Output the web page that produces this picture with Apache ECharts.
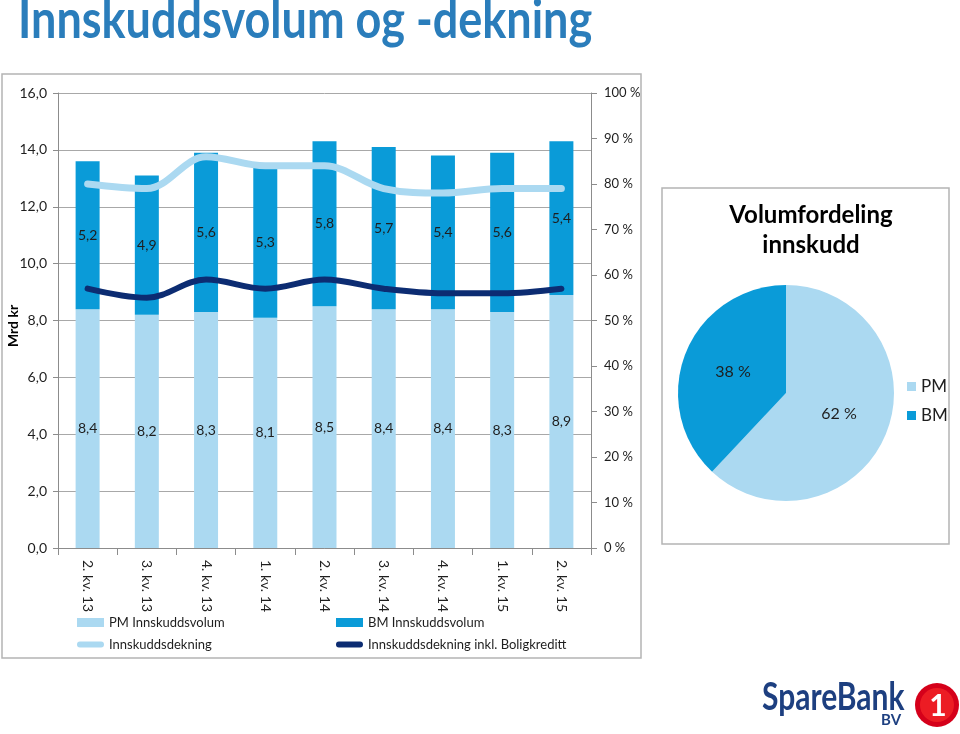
<!DOCTYPE html>
<html>
<head>
<meta charset="utf-8">
<script src="https://cdn.jsdelivr.net/npm/echarts@6/dist/echarts.min.js"></script>
<style>
html,body{margin:0;padding:0;background:#fff;}
#c{width:960px;height:734px;}
</style>
</head>
<body>
<div id="c"></div>
<script>
// ---- data ----
var categories = ['2. kv. 13','3. kv. 13','4. kv. 13','1. kv. 14','2. kv. 14','3. kv. 14','4. kv. 14','1. kv. 15','2. kv. 15'];
var pmVolum = [8.4, 8.2, 8.3, 8.1, 8.5, 8.4, 8.4, 8.3, 8.9];
var bmVolum = [5.2, 4.9, 5.6, 5.3, 5.8, 5.7, 5.4, 5.6, 5.4];
var dekning = [80, 79, 86, 84, 84, 79, 78, 79, 79];
var dekningBK = [57, 55, 59, 57, 59, 57, 56, 56, 57];
var pieNames = ['PM', 'BM'];
var pieValues = [62, 38];

var FONT = 'Lato, "Open Sans", sans-serif';
var C_PM = '#abd9f1';
var C_BM = '#0a9bd8';
var C_NAVY = '#0c2c72';
var TXT = '#1e1e1e';
function dec(v){ return v.toFixed(1).replace('.', ','); }
var lineIcon = 'path://M3,0 H25 A3,3 0 0 1 25,6 H3 A3,3 0 0 1 3,0 Z';

var chart = echarts.init(document.getElementById('c'), null, {renderer:'canvas'});
chart.setOption({
  animation:false,
  backgroundColor:'#fff',
  textStyle:{fontFamily:FONT},
  title:[
    {text:'Volumfordeling\ninnskudd', left:806, top:195, textAlign:'center',
     textStyle:{fontFamily:FONT, fontSize:24, fontWeight:'bold', color:'#000', lineHeight:30}}
  ],
  graphic:[
    {type:'text', x:18, y:-6, scaleX:1.0, scaleY:1.2, style:{text:'Innskuddsvolum og -dekning', fill:'#2a7dbb',
      font:'bold 45px ' + FONT}},
    {type:'text', x:13, y:326, rotation:Math.PI/2, style:{text:'Mrd kr', fill:'#000', font:'bold 14px ' + FONT, align:'center', verticalAlign:'middle'}},
    {type:'rect', shape:{x:2, y:74, width:639, height:584}, style:{fill:'none', stroke:'#b4b4b4', lineWidth:1.5}, z:-1},
    {type:'rect', shape:{x:662, y:188, width:287, height:356}, style:{fill:'none', stroke:'#b4b4b4', lineWidth:1.5}, z:-1},
    {type:'text', x:762, y:679, scaleY:1.25, style:{text:'SpareBank', fill:'#1d3f80', font:'bold 30px ' + FONT}},
    {type:'text', x:881, y:713, style:{text:'BV', fill:'#1d3f80', font:'bold 15px ' + FONT}},
    {type:'circle', shape:{cx:937, cy:705, r:22}, style:{fill:'#d5001a'}},
    {type:'circle', shape:{cx:937, cy:705, r:17}, style:{fill:'#ec1c24'}},
    {type:'text', x:938, y:706, style:{text:'1', fill:'#fff', font:'bold 30px ' + FONT, align:'center', verticalAlign:'middle'}}
  ],
  legend:[
    {left:72, top:611, orient:'vertical', itemGap:9, itemWidth:27, itemHeight:9,
     textStyle:{fontFamily:FONT, fontSize:13, color:TXT},
     data:[{name:'PM Innskuddsvolum', icon:'rect'}, {name:'Innskuddsdekning', icon:lineIcon}]},
    {left:331, top:611, orient:'vertical', itemGap:9, itemWidth:27, itemHeight:9,
     textStyle:{fontFamily:FONT, fontSize:13, color:TXT},
     data:[{name:'BM Innskuddsvolum', icon:'rect'}, {name:'Innskuddsdekning inkl. Boligkreditt', icon:lineIcon}]},
    {left:902, top:373, orient:'vertical', itemGap:12, itemWidth:9, itemHeight:9, icon:'rect',
     textStyle:{fontFamily:FONT, fontSize:17, color:TXT},
     data:pieNames}
  ],
  grid:{left:58, right:369, top:93, bottom:186, outerBoundsMode:'none', containLabel:false},
  xAxis:{
    type:'category', data:categories, boundaryGap:true,
    axisLine:{lineStyle:{color:'#8c8c8c'}},
    axisTick:{show:true, alignWithLabel:false, length:7, lineStyle:{color:'#8c8c8c'}},
    axisLabel:{rotate:-90, margin:12, fontFamily:FONT, fontSize:14, color:TXT}
  },
  yAxis:[
    {type:'value', min:0, max:16, interval:2,
     axisLine:{show:true, lineStyle:{color:'#8c8c8c'}},
     axisTick:{show:true, length:5, lineStyle:{color:'#8c8c8c'}},
     axisLabel:{formatter:function(v){return dec(v);}, fontFamily:FONT, fontSize:14, color:TXT, margin:11},
     splitLine:{show:true, lineStyle:{color:'#a8a8a8', width:1}}},
    {type:'value', min:0, max:100, interval:10, position:'right',
     axisLine:{show:true, lineStyle:{color:'#8c8c8c'}},
     axisTick:{show:true, length:6, lineStyle:{color:'#8c8c8c'}},
     axisLabel:{formatter:function(v){return v + ' %';}, fontFamily:FONT, fontSize:13, color:TXT, margin:13},
     splitLine:{show:false}}
  ],
  series:[
    {name:'PM Innskuddsvolum', type:'bar', stack:'vol', data:pmVolum, barWidth:24,
     itemStyle:{color:C_PM},
     label:{show:true, position:'inside', formatter:function(p){return dec(p.value);}, fontFamily:FONT, fontSize:14, color:TXT}},
    {name:'BM Innskuddsvolum', type:'bar', stack:'vol', data:bmVolum, barWidth:24,
     itemStyle:{color:C_BM},
     label:{show:true, position:'inside', formatter:function(p){return dec(p.value);}, fontFamily:FONT, fontSize:14, color:TXT}},
    {name:'Innskuddsdekning', type:'line', yAxisIndex:1, data:dekning, smooth:0.35,
     symbol:'none', showSymbol:false, lineStyle:{color:C_PM, width:7, cap:'round'}, itemStyle:{color:C_PM},
     label:{show:true, position:'top', distance:9, formatter:function(p){return p.value + ' %';}, fontFamily:FONT, fontSize:13, color:TXT}},
    {name:'Innskuddsdekning inkl. Boligkreditt', type:'line', yAxisIndex:1, data:dekningBK, smooth:0.35,
     symbol:'none', showSymbol:false, lineStyle:{color:C_NAVY, width:6, cap:'round'}, itemStyle:{color:C_NAVY},
     label:{show:true, position:'bottom', distance:11, formatter:function(p){return p.value + ' %';}, fontFamily:FONT, fontSize:13, color:TXT}},
    {name:'Volumfordeling', type:'pie', center:[786, 393], radius:108, startAngle:90, clockwise:true,
     data:pieNames.map(function(n,i){return {name:n, value:pieValues[i]};}),
     color:[C_PM, C_BM],
     label:{show:true, position:'inner', formatter:function(p){return p.value + ' %';}, fontFamily:FONT, fontSize:16, color:TXT},
     labelLine:{show:false}, emphasis:{disabled:true}}
  ]
});
</script>
</body>
</html>
